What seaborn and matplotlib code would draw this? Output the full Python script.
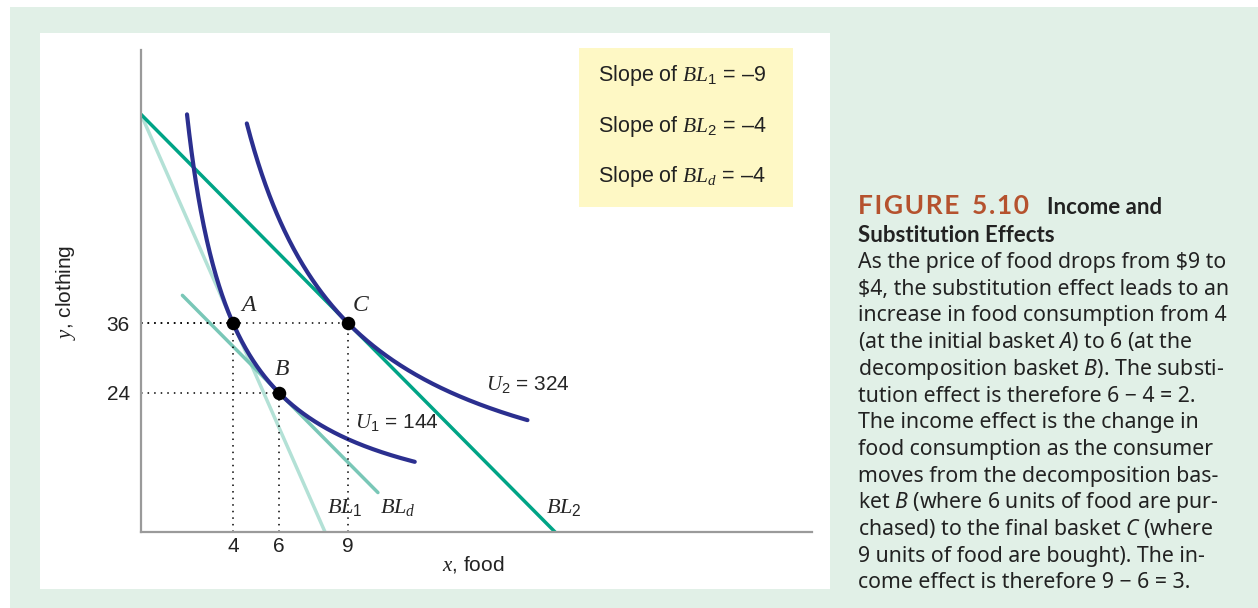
import numpy as np
import pandas as pd
import matplotlib
matplotlib.use('Agg')
import matplotlib.pyplot as plt
from matplotlib.patches import Rectangle
import seaborn as sns

# baskets
basket_names = ['A', 'B', 'C']
basket_food = [4, 6, 9]
basket_clothing = [36, 24, 36]

# indifference curves, U = x * y
utility_names = ['U1', 'U2']
utility_levels = [144, 324]
utility_food_from = [2.0, 4.6]
utility_food_to = [11.9, 16.8]

# budget lines
budget_names = ['BL1', 'BL2', 'BLd']
budget_intercept = [72, 72, 48]
budget_slope = [-9, -4, -4]
budget_food_from = [0, 0, 1.8]
budget_food_to = [8, 18, 10.3]

slope_texts = ['Slope of $BL_1$ = \u20139', 'Slope of $BL_2$ = \u20134', 'Slope of $BL_d$ = \u20134']
x_ticks = [4, 6, 9]
y_ticks = [24, 36]

caption_body = [
    r'As the price of food drops from \$9 to',
    r'\$4, the substitution effect leads to an',
    'increase in food consumption from 4',
    r'(at the initial basket $\mathsf{A}$) to 6 (at the',
    r'decomposition basket $\mathsf{B}$). The substi-',
    'tution effect is therefore 6 \u2212 4 = 2.',
    'The income effect is the change in',
    'food consumption as the consumer',
    'moves from the decomposition bas-',
    r'ket $\mathsf{B}$ (where 6 units of food are pur-',
    r'chased) to the final basket $\mathsf{C}$ (where',
    '9 units of food are bought). The in-',
    'come effect is therefore 9 \u2212 6 = 3.',
]

NAVY = '#2b2f8f'
BUDGET_COLOURS = {'BL1': '#b3e1d6', 'BL2': '#00a486', 'BLd': '#79c7b7'}

sns.set_style('white')
plt.rcParams['font.family'] = ['Liberation Sans', 'DejaVu Sans']
plt.rcParams['mathtext.fontset'] = 'custom'
plt.rcParams['mathtext.rm'] = 'Liberation Sans'
plt.rcParams['mathtext.it'] = 'Liberation Serif:italic'
plt.rcParams['mathtext.sf'] = 'Noto Sans:italic'
plt.rcParams['mathtext.bf'] = 'Liberation Sans:bold'

# tables for seaborn
frames = []
for name, u, a, b in zip(utility_names, utility_levels, utility_food_from, utility_food_to):
    x = np.linspace(a, b, 300)
    frames.append(pd.DataFrame({'food': x, 'clothing': u / x, 'curve': name}))
curves = pd.concat(frames, ignore_index=True)

frames = []
for name, c, s, a, b in zip(budget_names, budget_intercept, budget_slope, budget_food_from, budget_food_to):
    x = np.array([a, b])
    frames.append(pd.DataFrame({'food': x, 'clothing': c + s * x, 'line': name}))
budget = pd.concat(frames, ignore_index=True)

fig = plt.figure(figsize=(12.58, 6.08), dpi=100)
fig.patch.set_facecolor('white')
fig.add_artist(Rectangle((10 / 1258, 0), 1, 601 / 608, transform=fig.transFigure,
                         facecolor='#e1f0e7', edgecolor='none', zorder=-10))
fig.add_artist(Rectangle((40 / 1258, 19 / 608), 790 / 1258, 556 / 608, transform=fig.transFigure,
                         facecolor='white', edgecolor='none', zorder=-9))

ax = fig.add_axes([141 / 1258, 76 / 608, 671 / 1258, 482 / 608])
ax.patch.set_alpha(0)

sns.lineplot(data=budget, x='food', y='clothing', hue='line', palette=BUDGET_COLOURS,
             estimator=None, sort=False, linewidth=2.5, legend=False, ax=ax)
sns.lineplot(data=curves, x='food', y='clothing', hue='curve', palette=[NAVY, NAVY],
             estimator=None, sort=False, linewidth=3.0, legend=False, ax=ax)

dots = (0, (1, 3.3))
ax.hlines(basket_clothing, 0, basket_food, colors='black', linestyles=[dots], linewidth=1.1)
ax.vlines(basket_food, 0, basket_clothing, colors='black', linestyles=[dots], linewidth=1.1)
sns.scatterplot(x=basket_food, y=basket_clothing, color='black', s=95, linewidth=0, zorder=5, ax=ax)

offsets = {'A': (11, 13), 'B': (2, 17), 'C': (9, 13)}
for name, x, y in zip(basket_names, basket_food, basket_clothing):
    ax.annotate(name, (x, y), xytext=offsets[name], textcoords='offset points',
                ha='center', va='center', fontsize=17, family='Liberation Serif', style='italic')

ax.text(9.3, 18.0, '$U_1$ = 144', fontsize=15, va='baseline')
ax.text(15.0, 24.5, '$U_2$ = 324', fontsize=15, va='baseline')
ax.text(8.1, 3.3, '$BL_1$', fontsize=16, va='baseline')
ax.text(10.4, 3.3, '$BL_d$', fontsize=16, va='baseline')
ax.text(17.6, 3.3, '$BL_2$', fontsize=16, va='baseline')

ax.add_patch(Rectangle((0.653, 0.674), 0.319, 0.33, transform=ax.transAxes,
                       facecolor='#fef8c5', edgecolor='none', clip_on=False, zorder=0))
for t, yy in zip(slope_texts, [0.936, 0.830, 0.726]):
    ax.text(0.681, yy, t, transform=ax.transAxes, fontsize=15.5, va='baseline', color='#222222')

ax.set_xlim(0, 29.17)
ax.set_ylim(0, 83.1)
ax.set_xticks(x_ticks)
ax.set_yticks(y_ticks)
ax.tick_params(length=0, labelsize=15, labelcolor='#222222')
ax.tick_params(axis='x', pad=3.5)
ax.tick_params(axis='y', pad=8)
sns.despine(ax=ax, top=True, right=True)
for side in ['left', 'bottom']:
    ax.spines[side].set_color('#9a9a9a')
    ax.spines[side].set_linewidth(1.6)

ax.set_xlabel('$x$, food', fontsize=15, color='#222222', va='center')
ax.xaxis.set_label_coords(0.495, -0.068)
ax.set_ylabel('$y$, clothing', fontsize=15, color='#222222', va='center', ha='center')
ax.yaxis.set_label_coords(-0.112, 0.498)

# caption on the right (letter-spaced figure number)
fig_number = '\u200a'.join('FIGURE') + '  ' + '\u200a'.join('5.10')
fig.text(858 / 1258, (608 - 214) / 608, fig_number, fontsize=19,
         weight='bold', family='Lato', color='#b5522e', va='baseline')
fig.text(1047 / 1258, (608 - 214) / 608, 'Income and', fontsize=16, weight='bold',
         family='Lato', color='#222222', va='baseline')
fig.text(858 / 1258, (608 - 242) / 608, 'Substitution Effects', fontsize=16, weight='bold',
         family='Lato', color='#222222', va='baseline')
for i, line in enumerate(caption_body):
    fig.text(858 / 1258, (608 - 268 - 26.7 * i) / 608, line, fontsize=15.3,
             family='Noto Sans', color='#222222', va='baseline')

fig.savefig('out.png', dpi=100)
